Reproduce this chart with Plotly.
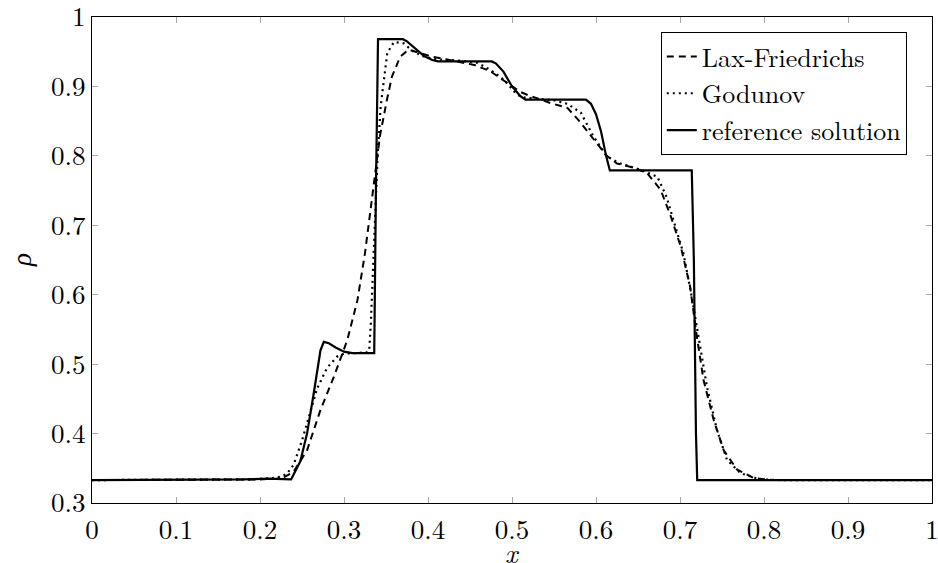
import plotly.graph_objects as go

# Reference solution (solid)
ref_x = [0.0, 0.15, 0.18, 0.21, 0.237, 0.248, 0.256, 0.264, 0.272, 0.276, 0.282, 0.290, 0.300, 0.310,
         0.336, 0.338, 0.3405, 0.345, 0.370, 0.375, 0.385, 0.395, 0.405, 0.412, 0.476, 0.481, 0.490,
         0.500, 0.510, 0.516, 0.588, 0.594, 0.600, 0.606, 0.612, 0.6165, 0.714, 0.7165, 0.719, 0.7205, 1.0]
ref_y = [0.333, 0.333, 0.334, 0.335, 0.334, 0.360, 0.400, 0.458, 0.520, 0.532, 0.530, 0.524, 0.518, 0.516,
         0.516, 0.750, 0.968, 0.968, 0.968, 0.965, 0.955, 0.944, 0.938, 0.936, 0.936, 0.933, 0.921,
         0.900, 0.886, 0.881, 0.881, 0.875, 0.860, 0.835, 0.800, 0.779, 0.779, 0.650, 0.400, 0.333, 0.333]

# Godunov (dotted)
god_x = [0.0, 0.15, 0.19, 0.215, 0.225, 0.232, 0.240, 0.250, 0.260, 0.268, 0.280, 0.292, 0.300, 0.310,
         0.328, 0.330, 0.332, 0.334, 0.337, 0.340, 0.3436, 0.3476, 0.3515, 0.3595, 0.371, 0.383, 0.395,
         0.410, 0.440, 0.459, 0.474, 0.490, 0.500, 0.506, 0.515, 0.530, 0.550, 0.566, 0.582, 0.597, 0.613,
         0.629, 0.653, 0.673, 0.684, 0.692, 0.704, 0.714, 0.722, 0.732, 0.744, 0.756, 0.772, 0.795, 0.820, 1.0]
god_y = [0.333, 0.333, 0.334, 0.336, 0.338, 0.342, 0.355, 0.390, 0.430, 0.465, 0.495, 0.511, 0.515, 0.516,
         0.517, 0.520, 0.560, 0.620, 0.720, 0.800, 0.871, 0.914, 0.948, 0.964, 0.962, 0.950, 0.943,
         0.939, 0.937, 0.934, 0.924, 0.910, 0.897, 0.888, 0.884, 0.882, 0.880, 0.875, 0.862, 0.828, 0.799,
         0.789, 0.780, 0.770, 0.741, 0.708, 0.660, 0.597, 0.540, 0.468, 0.405, 0.362, 0.343, 0.334, 0.333, 0.333]

# Lax-Friedrichs (dashed)
lf_x = [0.0, 0.15, 0.20, 0.22, 0.23, 0.24, 0.256, 0.272, 0.288, 0.304, 0.316, 0.325, 0.335, 0.343, 0.351,
        0.357, 0.367, 0.377, 0.391, 0.404, 0.430, 0.455, 0.474, 0.494, 0.510, 0.518, 0.546, 0.566, 0.581,
        0.601, 0.613, 0.625, 0.645, 0.661, 0.677, 0.689, 0.701, 0.712, 0.720, 0.728, 0.740, 0.752, 0.768,
        0.788, 0.810, 1.0]
lf_y = [0.333, 0.333, 0.334, 0.335, 0.338, 0.345, 0.376, 0.434, 0.482, 0.535, 0.592, 0.660, 0.750, 0.830, 0.880,
        0.914, 0.943, 0.953, 0.948, 0.943, 0.937, 0.931, 0.922, 0.905, 0.892, 0.888, 0.876, 0.869, 0.849,
        0.818, 0.800, 0.789, 0.783, 0.775, 0.751, 0.713, 0.669, 0.612, 0.540, 0.477, 0.420, 0.376, 0.348,
        0.336, 0.333, 0.333]

x_ticks = [0, 0.1, 0.2, 0.3, 0.4, 0.5, 0.6, 0.7, 0.8, 0.9, 1]
x_labels = ["0", "0.1", "0.2", "0.3", "0.4", "0.5", "0.6", "0.7", "0.8", "0.9", "1"]
y_ticks = [0.3, 0.4, 0.5, 0.6, 0.7, 0.8, 0.9, 1]
y_labels = ["0.3", "0.4", "0.5", "0.6", "0.7", "0.8", "0.9", "1"]

FONT = "Latin Modern Roman"
FS = 27

fig = go.Figure()
fig.add_trace(go.Scatter(x=lf_x, y=lf_y, mode="lines", name="Lax-Friedrichs",
                         line=dict(color="black", width=2, dash="7px,5px")))
fig.add_trace(go.Scatter(x=god_x, y=god_y, mode="lines", name="Godunov",
                         line=dict(color="black", width=2.2, dash="2px,4px")))
fig.add_trace(go.Scatter(x=ref_x, y=ref_y, mode="lines", name="reference solution",
                         line=dict(color="black", width=2.2)))

common = dict(showline=True, linecolor="black", linewidth=1, mirror="ticks",
              ticks="inside", ticklen=6, tickcolor="#aaaaaa", tickwidth=1,
              showgrid=False, zeroline=False, ticklabeloverflow="allow", automargin=False,
              tickfont=dict(family=FONT, size=FS, color="black"))

fig.update_xaxes(range=[0, 1], tickvals=x_ticks, ticktext=x_labels, ticklabelstandoff=3, **common)
fig.update_yaxes(range=[0.3, 1], tickvals=y_ticks, ticktext=y_labels, **common)

# axis titles as annotations so they sit where the reference has them
fig.add_annotation(text="<i>x</i>", xref="paper", yref="paper", x=0.5, y=0,
                   xanchor="center", yanchor="middle", yshift=-49, showarrow=False,
                   font=dict(family=FONT, size=FS, color="black"))
fig.add_annotation(text="<i>ρ</i>", xref="paper", yref="paper", x=0, y=0.5,
                   xanchor="center", yanchor="middle", xshift=-72, textangle=-90, showarrow=False,
                   font=dict(family=FONT, size=FS, color="black"))

fig.update_layout(
    width=938, height=563,
    margin=dict(l=92, r=6, t=17, b=60),
    paper_bgcolor="white", plot_bgcolor="white",
    font=dict(family=FONT, color="black", size=FS),
    legend=dict(x=0.970, y=0.969, xanchor="right", yanchor="top",
                bgcolor="white", bordercolor="black", borderwidth=1,
                font=dict(family=FONT, size=26, color="black"),
                tracegroupgap=0, itemwidth=30),
    showlegend=True,
)

fig.write_html("out.html")
